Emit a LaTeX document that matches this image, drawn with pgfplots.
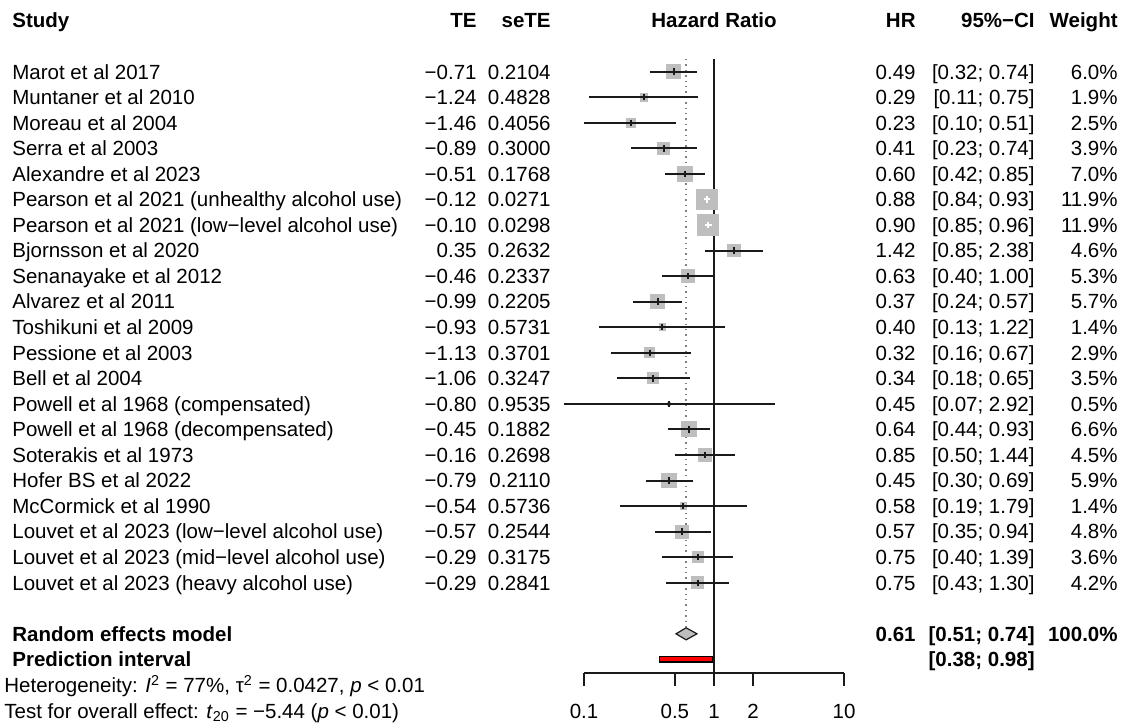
\documentclass[border=0pt]{standalone}
\usepackage{pgfplots}
\pgfplotsset{compat=1.18}
\usepackage{pgfplotstable}
\usepackage{fontspec}
\setmainfont{Liberation Sans}

\definecolor{dk}{HTML}{1A1A1A}
\definecolor{sq}{HTML}{BEBEBE}
\definecolor{pired}{HTML}{FF0000}

% row: position from top, ms: half side of square (pt), inside: CI within square
\pgfplotstableread{
row hr   lo   hi   ms   inside
0   0.49 0.32 0.74 3.85 0
1   0.29 0.11 0.75 2.17 0
2   0.23 0.10 0.51 2.49 0
3   0.41 0.23 0.74 3.11 0
4   0.60 0.42 0.85 4.16 0
5   0.88 0.84 0.93 5.43 1
6   0.90 0.85 0.96 5.43 1
7   1.42 0.85 2.38 3.37 0
8   0.63 0.40 1.00 3.62 0
9   0.37 0.24 0.57 3.76 0
10  0.40 0.13 1.22 1.86 0
11  0.32 0.16 0.67 2.68 0
12  0.34 0.18 0.65 2.94 0
13  0.45 0.07 2.92 1.11 0
14  0.64 0.44 0.93 4.04 0
15  0.85 0.50 1.44 3.34 0
16  0.45 0.30 0.69 3.82 0
17  0.58 0.19 1.79 1.86 0
18  0.57 0.35 0.94 3.45 0
19  0.75 0.40 1.39 2.98 0
20  0.75 0.43 1.30 3.22 0
}\studies

\begin{document}
\begin{tikzpicture}[font=\fontsize{10.25}{12}\selectfont]
\path[use as bounding box] (0,0) rectangle (565.5pt,-362pt);
\begin{axis}[
    at={(292pt,-336.5pt)}, anchor=south west,
    scale only axis,
    width=130pt, height=336.5pt,
    xmode=log,
    xmin=0.1, xmax=10,
    ymin=-23.534, ymax=2.806,
    clip=false,
    axis x line*=bottom,
    axis y line=none,
    axis line style={dk, line width=0.75pt},
    xtick={0.1,0.5,1,2,10},
    xticklabels={0.1,0.5,1,2,10},
    minor xtick={},
    tick align=outside,
    major tick length=6.5pt,
    tick style={dk, line width=0.75pt},
    xticklabel style={anchor=base, yshift=-16pt, inner sep=0pt},
  ]
  % reference lines
  \addplot[dk, line width=0.85pt] coordinates {(1,0.497) (1,-23.534)};
  \addplot[gray, dotted, line width=0.7pt] coordinates {(0.61,0.497) (0.61,-21.73)};

  % studies: square (area ~ weight), CI, point estimate
  \pgfplotsforeachungrouped \i in {0,...,20}{%
    \pgfplotstablegetelem{\i}{hr}\of\studies \let\vHR\pgfplotsretval
    \pgfplotstablegetelem{\i}{lo}\of\studies \let\vLO\pgfplotsretval
    \pgfplotstablegetelem{\i}{hi}\of\studies \let\vHI\pgfplotsretval
    \pgfplotstablegetelem{\i}{ms}\of\studies \let\vMS\pgfplotsretval
    \pgfplotstablegetelem{\i}{inside}\of\studies
    \ifnum\pgfplotsretval=1 \def\vCol{white}\else\def\vCol{dk}\fi
    \pgfmathsetmacro\xa{\vHR*10^(-\vMS/65)}
    \pgfmathsetmacro\xb{\vHR*10^(\vMS/65)}
    \pgfmathsetmacro\ya{-\i+\vMS/12.775}
    \pgfmathsetmacro\yb{-\i-\vMS/12.775}
    \edef\cmd{%
      \noexpand\addplot[fill=sq, draw=none] coordinates
        {(\xa,\ya) (\xb,\ya) (\xb,\yb) (\xa,\yb)} -- cycle;
      \noexpand\addplot[\vCol, line width=1pt] coordinates {(\vLO,-\i) (\vHI,-\i)};
      \noexpand\addplot[\vCol, only marks, mark=|, mark size=1.6pt,
        mark options={\vCol, line width=1pt}] coordinates {(\vHR,-\i)};
    }\cmd
  }

  % random effects diamond and prediction interval
  \addplot[fill=sq, draw=dk, line width=0.6pt] coordinates
    {(0.51,-22) (0.61,-21.765) (0.74,-22) (0.61,-22.235)} -- cycle;
  \addplot[fill=pired, draw=black, line width=0.6pt] coordinates
    {(0.38,-22.9) (0.98,-22.9) (0.98,-23.1) (0.38,-23.1)} -- cycle;
\end{axis}

\begin{scope}[x=0.5pt, y=-0.5pt, nodes={inner sep=0pt}]
  \node[anchor=base west] at (12,27.9) {\bfseries Study};
  \node[anchor=base east] at (477,27.9) {\bfseries TE};
  \node[anchor=base east] at (551,27.9) {\bfseries seTE};
  \node[anchor=base] at (714,27.9) {\bfseries Hazard Ratio};
  \node[anchor=base east] at (916,27.9) {\bfseries HR};
  \node[anchor=base east] at (1035,27.9) {\bfseries 95\%−CI};
  \node[anchor=base east] at (1118,27.9) {\bfseries Weight};

  \foreach \nm/\te/\se/\hrt/\ci/\wt [count=\k from 0] in {
    Marot et al 2017/−0.71/0.2104/0.49/{[0.32; 0.74]}/6.0\%,
    Muntaner et al 2010/−1.24/0.4828/0.29/{[0.11; 0.75]}/1.9\%,
    Moreau et al 2004/−1.46/0.4056/0.23/{[0.10; 0.51]}/2.5\%,
    Serra et al 2003/−0.89/0.3000/0.41/{[0.23; 0.74]}/3.9\%,
    Alexandre et al 2023/−0.51/0.1768/0.60/{[0.42; 0.85]}/7.0\%,
    Pearson et al 2021 (unhealthy alcohol use)/−0.12/0.0271/0.88/{[0.84; 0.93]}/11.9\%,
    Pearson et al 2021 (low−level alcohol use)/−0.10/0.0298/0.90/{[0.85; 0.96]}/11.9\%,
    Bjornsson et al 2020/0.35/0.2632/1.42/{[0.85; 2.38]}/4.6\%,
    Senanayake et al 2012/−0.46/0.2337/0.63/{[0.40; 1.00]}/5.3\%,
    Alvarez et al 2011/−0.99/0.2205/0.37/{[0.24; 0.57]}/5.7\%,
    Toshikuni et al 2009/−0.93/0.5731/0.40/{[0.13; 1.22]}/1.4\%,
    Pessione et al 2003/−1.13/0.3701/0.32/{[0.16; 0.67]}/2.9\%,
    Bell et al 2004/−1.06/0.3247/0.34/{[0.18; 0.65]}/3.5\%,
    Powell et al 1968 (compensated)/−0.80/0.9535/0.45/{[0.07; 2.92]}/0.5\%,
    Powell et al 1968 (decompensated)/−0.45/0.1882/0.64/{[0.44; 0.93]}/6.6\%,
    Soterakis et al 1973/−0.16/0.2698/0.85/{[0.50; 1.44]}/4.5\%,
    Hofer BS et al 2022/−0.79/0.2110/0.45/{[0.30; 0.69]}/5.9\%,
    McCormick et al 1990/−0.54/0.5736/0.58/{[0.19; 1.79]}/1.4\%,
    Louvet et al 2023 (low−level alcohol use)/−0.57/0.2544/0.57/{[0.35; 0.94]}/4.8\%,
    Louvet et al 2023 (mid−level alcohol use)/−0.29/0.3175/0.75/{[0.40; 1.39]}/3.6\%,
    Louvet et al 2023 (heavy alcohol use)/−0.29/0.2841/0.75/{[0.43; 1.30]}/4.2\%}{
    \node[anchor=base west] at (12,{79+25.55*\k}) {\nm};
    \node[anchor=base east] at (477,{79+25.55*\k}) {\te};
    \node[anchor=base east] at (551,{79+25.55*\k}) {\se};
    \node[anchor=base east] at (916,{79+25.55*\k}) {\hrt};
    \node[anchor=base east] at (1035,{79+25.55*\k}) {\ci};
    \node[anchor=base east] at (1118,{79+25.55*\k}) {\wt};
  }

  \node[anchor=base west] at (12,641.1) {\bfseries Random effects model};
  \node[anchor=base east] at (916,641.1) {\bfseries 0.61};
  \node[anchor=base east] at (1035,641.1) {\bfseries [0.51; 0.74]};
  \node[anchor=base east] at (1118,641.1) {\bfseries 100.0\%};
  \node[anchor=base west] at (12,666.7) {\bfseries Prediction interval};
  \node[anchor=base east] at (1035,666.7) {\bfseries [0.38; 0.98]};
  \node[anchor=base west] at (4,692.3) {Heterogeneity: \textit{I}\textsuperscript{2} = 77\%, τ\textsuperscript{2} = 0.0427, \textit{p} < 0.01};
  \node[anchor=base west] at (4,718) {Test for overall effect: \textit{t}\textsubscript{20} = −5.44 (\textit{p} < 0.01)};
\end{scope}
\end{tikzpicture}
\end{document}
